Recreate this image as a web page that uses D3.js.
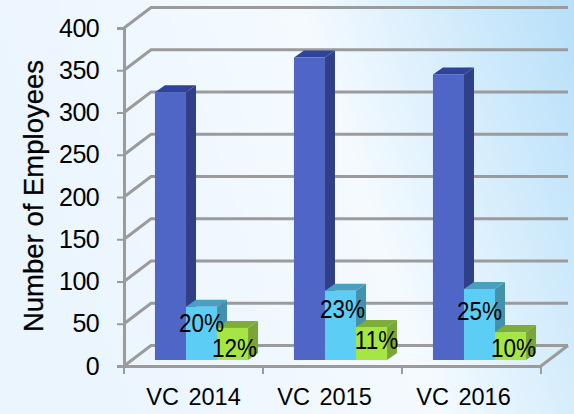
<!DOCTYPE html>
<html>
<head>
<meta charset="utf-8">
<script src="https://cdn.jsdelivr.net/npm/d3@7"></script>
<style>
html, body { margin: 0; padding: 0; background: #fff; }
svg { display: block; }
text { font-family: "Liberation Sans", Arial, sans-serif; fill: #000; }
</style>
</head>
<body>
<svg id="chart"></svg>
<script>
const years = ['VC 2014', 'VC 2015', 'VC 2016'];
const seriesNames = ['total', 'middle', 'small'];
const totalValues = [317, 358, 338];
const middleValues = [63, 82, 84];
const smallValues = [38, 39, 33];
const middleLabels = ['20%', '23%', '25%'];
const smallLabels = ['12%', '11%', '10%'];
const yTicks = [0, 50, 100, 150, 200, 250, 300, 350, 400];

const width = 574, height = 414;
const depth = {x: 27, y: -20.5};   // floor depth of the chart box
const barDepth = {x: 10, y: -7};
const barInset = {x: 8, y: -6};    // how far into the floor the bars stand

const svg = d3.select('#chart').attr('width', width).attr('height', height);

const defs = svg.append('defs');
const bg = defs.append('linearGradient').attr('id', 'bg')
    .attr('x1', '0').attr('y1', '0.25').attr('x2', '1').attr('y2', '0');
bg.append('stop').attr('offset', '0').attr('stop-color', '#ebf5fe');
bg.append('stop').attr('offset', '0.55').attr('stop-color', '#f4faff');
bg.append('stop').attr('offset', '1').attr('stop-color', '#b6dff9');
svg.append('rect').attr('width', width).attr('height', height).attr('fill', 'url(#bg)');

const x = d3.scaleBand().domain(years).range([124, 541]);
const bars = d3.scaleBand().domain(seriesNames).range([0, x.bandwidth()]).paddingInner(0).paddingOuter(0.74);
const y = d3.scaleLinear().domain([0, 400]).range([366, 28]);

const gridColor = '#9b9b9b';

// back wall and side wall lines
const grid = svg.append('g').attr('fill', 'none').attr('stroke', gridColor).attr('stroke-width', 3);
yTicks.forEach(t => {
    grid.append('path').attr('d', d3.line()([
        [x.range()[0], y(t)],
        [x.range()[0] + depth.x, y(t) + depth.y],
        [x.range()[1] + depth.x, y(t) + depth.y]
    ]));
});
// floor, right edge
grid.append('path').attr('d', d3.line()([
    [x.range()[1], y(0)],
    [x.range()[1] + depth.x, y(0) + depth.y]
]));

const colors = {
    total: {front: '#4f66c6', side: '#2f3f88', top: '#2f439a'},
    middle: {front: '#5ccdf4', side: '#4391ac', top: '#4a9fc0'},
    small: {front: '#a5e645', side: '#79a53a', top: '#7fad3a'}
};

function drawBar(g, year, name, value) {
    const x0 = x(year) + bars(name) + barInset.x;
    const x1 = x0 + bars.bandwidth();
    const y0 = y(0) + barInset.y;
    const yt = y(value) + barInset.y;
    const c = colors[name];
    g.append('path').attr('fill', c.side).attr('d', d3.line()([
        [x1, yt], [x1 + barDepth.x, yt + barDepth.y], [x1 + barDepth.x, y0 + barDepth.y], [x1, y0]
    ]) + 'Z');
    g.append('path').attr('fill', c.top).attr('d', d3.line()([
        [x0, yt], [x0 + barDepth.x, yt + barDepth.y], [x1 + barDepth.x, yt + barDepth.y], [x1, yt]
    ]) + 'Z');
    g.append('rect').attr('x', x0).attr('y', yt).attr('width', x1 - x0).attr('height', y0 - yt).attr('fill', c.front);
}

const barsG = svg.append('g');
years.forEach((yr, i) => {
    drawBar(barsG, yr, 'total', totalValues[i]);
    drawBar(barsG, yr, 'middle', middleValues[i]);
    drawBar(barsG, yr, 'small', smallValues[i]);
});

// left axis
const yAxis = svg.append('g')
    .attr('transform', 'translate(' + x.range()[0] + ',0)')
    .call(d3.axisLeft(y).tickValues(yTicks).tickSize(7).tickPadding(18));
yAxis.selectAll('.domain').attr('stroke', gridColor).attr('stroke-width', 3);
yAxis.selectAll('line').attr('stroke', gridColor).attr('stroke-width', 2);
yAxis.selectAll('text').attr('font-size', 25).attr('letter-spacing', -0.6)
    .style('font-family', '"Liberation Sans", sans-serif');

// bottom axis, the labels in the picture are not evenly spaced
const xAxis = svg.append('g')
    .attr('transform', 'translate(0,' + y(0) + ')')
    .call(d3.axisBottom(x).tickSize(0).tickPadding(22));
xAxis.selectAll('.domain').attr('stroke', gridColor).attr('stroke-width', 3);
xAxis.selectAll('text').attr('font-size', 23.5).attr('dx', (d, i) => i ? -8 : 0)
    .style('font-family', '"Liberation Sans", sans-serif').style('word-spacing', '3px');
const edges = x.domain().map(d => x(d)).concat([x.range()[1]]);
xAxis.selectAll('line.edge').data(edges).enter().append('line').attr('class', 'edge')
    .attr('x1', d => d).attr('x2', d => d).attr('y1', 0).attr('y2', 8)
    .attr('stroke', gridColor).attr('stroke-width', 2);

// percent labels, nudged by hand to sit where the original has them
const middleNudge = [[0, -1], [2, 1], [0, 5]];
const smallNudge = [[0, 3], [3, -4], [1, -1]];
const labels = svg.append('g').attr('text-anchor', 'middle').attr('font-size', 25);
function percent(name, value, text, nudge, yr) {
    const px = x(yr) + bars(name) + barInset.x + bars.bandwidth() / 2 + nudge[0];
    const py = y(value) + barInset.y + 26 + nudge[1];
    labels.append('text')
        .attr('transform', 'translate(' + px + ',' + py + ') scale(0.9,1)')
        .text(text);
}
years.forEach((yr, i) => {
    percent('middle', middleValues[i], middleLabels[i], middleNudge[i], yr);
    percent('small', smallValues[i], smallLabels[i], [smallNudge[i][0] + 2, smallNudge[i][1]], yr);
});

svg.append('text')
    .attr('transform', 'translate(43,196) rotate(-90)')
    .attr('text-anchor', 'middle')
    .attr('font-size', 27.5)
    .attr('stroke', '#000')
    .attr('stroke-width', 0.3)
    .text('Number of Employees');
</script>
</body>
</html>
